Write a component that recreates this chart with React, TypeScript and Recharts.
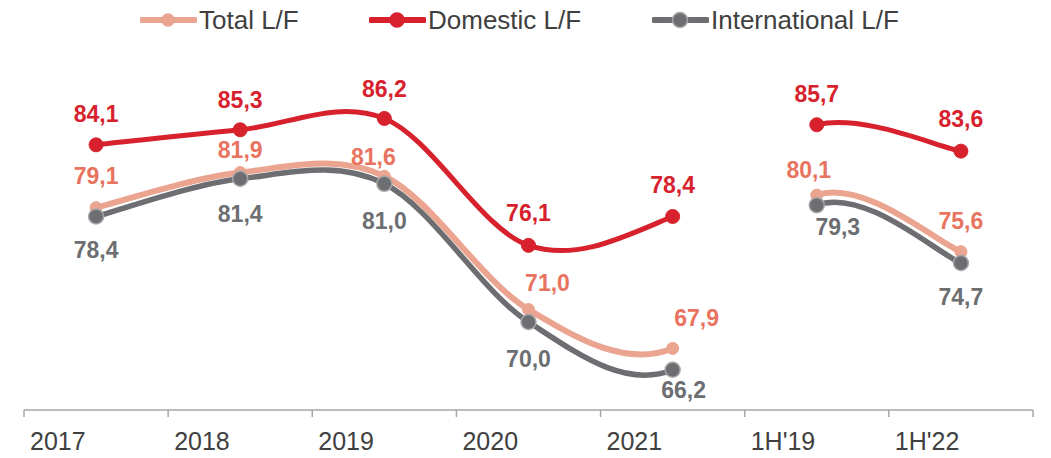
import { LineChart, Line, XAxis, YAxis, LabelList } from 'recharts'

const CATS = ['2017', '2018', '2019', '2020', '2021', "1H'19", "1H'22"]
const TOTAL = [79.1, 81.9, 81.6, 71.0, 67.9, 80.1, 75.6]
const DOMESTIC = [84.1, 85.3, 86.2, 76.1, 78.4, 85.7, 83.6]
const INTERNATIONAL = [78.4, 81.4, 81.0, 70.0, 66.2, 79.3, 74.7]

// the annual block and the half-year block are not joined
const BREAK_AFTER = CATS.indexOf('2021')

const DATA = CATS.map((cat, i) => ({
  cat,
  total: TOTAL[i],
  domestic: DOMESTIC[i],
  international: INTERNATIONAL[i],
}))

const W = 1051
const H = 458
const M = { top: 33, right: 18, bottom: 0, left: 24 }
const BAND = (W - M.left - M.right) / CATS.length
const FONT = '"Liberation Sans", Arial, sans-serif'

// label offsets (dx, dy) from each point, picked by eye
const OFF_TOTAL = [[0, -32], [0, -22], [-11, -19], [19, -26], [24, -30], [-8, -25], [0, -31]]
const OFF_DOM = [[0, -31], [0, -30], [0, -29], [0, -32], [0, -31], [0, -31], [0, -32]]
const OFF_INTL = [[0, 34], [0, 35], [0, 37], [0, 37], [11, 20], [21, 22], [0, 34]]

// Excel style smoothing: catmull-rom through all points, gap segment skipped
const excelCurve = (context: any) => {
  let pts: number[][] = []
  return {
    areaStart() {},
    areaEnd() {},
    lineStart() { pts = [] },
    point(x: number, y: number) { pts.push([+x, +y]) },
    lineEnd() {
      const n = pts.length
      if (!n) return
      context.moveTo(pts[0][0], pts[0][1])
      for (let i = 0; i < n - 1; i++) {
        const p0 = pts[Math.max(i - 1, 0)]
        const p1 = pts[i]
        const p2 = pts[i + 1]
        const p3 = pts[Math.min(i + 2, n - 1)]
        if (i === BREAK_AFTER) {
          context.moveTo(p2[0], p2[1])
          continue
        }
        context.bezierCurveTo(
          p1[0] + (p2[0] - p0[0]) / 6, p1[1] + (p2[1] - p0[1]) / 6,
          p2[0] - (p3[0] - p1[0]) / 6, p2[1] - (p3[1] - p1[1]) / 6,
          p2[0], p2[1],
        )
      }
    },
  }
}

const fmt = (v: number) => v.toFixed(1).replace('.', ',')

const labelFor = (color: string, offs: number[][]) => (props: any) => {
  const { x, y, value, index } = props
  const [dx, dy] = offs[index] || [0, 0]
  return (
    <text x={x + dx} y={y + dy} fill={color} textAnchor="middle" dominantBaseline="central"
      fontFamily={FONT} fontSize={23} fontWeight={700}>
      {fmt(value)}
    </text>
  )
}

const AxisTick = (props: any) => {
  const { x, y, payload, index, visibleTicksCount } = props
  const left = x - BAND / 2
  return (
    <g>
      <line x1={left} y1={y} x2={left} y2={y + 7} stroke="#A6A6A6" strokeWidth={1.5} />
      {index === visibleTicksCount - 1 && (
        <line x1={x + BAND / 2} y1={y} x2={x + BAND / 2} y2={y + 7} stroke="#A6A6A6" strokeWidth={1.5} />
      )}
      <text x={left + 6} y={y + 40} fill="#404040" fontFamily={FONT} fontSize={25}>
        {payload.value}
      </text>
    </g>
  )
}

const LEGEND = [
  { name: 'Total L/F', color: '#EBA490', stroke: '#EBA490', r: 6, x: 140 },
  { name: 'Domestic L/F', color: '#D7222D', stroke: '#D7222D', r: 7, x: 369 },
  { name: 'International L/F', color: '#6D6E71', stroke: '#A6A6A6', r: 7.5, x: 652 },
]

export default function App() {
  return (
    <div style={{ position: 'relative', width: W, height: H, fontFamily: FONT }}>
      <style>{'body{margin:0}'}</style>
      {LEGEND.map((l) => (
        <div key={l.name} style={{ position: 'absolute', left: l.x, top: 0, height: 40,
          display: 'flex', alignItems: 'center' }}>
          <svg width={57} height={40}>
            <line x1={2} y1={20} x2={55} y2={20} stroke={l.color} strokeWidth={6} strokeLinecap="round" />
            <circle cx={28} cy={20} r={l.r} fill={l.color} stroke={l.stroke} strokeWidth={1.5} />
          </svg>
          <span style={{ fontSize: 26, color: '#404040', marginLeft: 2, lineHeight: '40px' }}>{l.name}</span>
        </div>
      ))}
      <LineChart width={W} height={H} data={DATA} margin={M}>
        <XAxis dataKey="cat" scale="band" height={48} tickLine={false} tickSize={0} tickMargin={0}
          axisLine={{ stroke: '#A6A6A6', strokeWidth: 1.5 }} tick={<AxisTick />} interval={0} />
        <YAxis hide domain={[63, 93]} />
        <Line dataKey="total" type={excelCurve as any} stroke="#EBA490" strokeWidth={6}
          dot={{ r: 6, fill: '#EBA490', stroke: '#EBA490', strokeWidth: 1 }} isAnimationActive={false}>
          <LabelList dataKey="total" content={labelFor('#E8735E', OFF_TOTAL)} />
        </Line>
        <Line dataKey="domestic" type={excelCurve as any} stroke="#D7222D" strokeWidth={5}
          dot={{ r: 7, fill: '#D7222D', stroke: '#D7222D', strokeWidth: 1 }} isAnimationActive={false}>
          <LabelList dataKey="domestic" content={labelFor('#D7222D', OFF_DOM)} />
        </Line>
        <Line dataKey="international" type={excelCurve as any} stroke="#6D6E71" strokeWidth={5.5}
          dot={{ r: 7.5, fill: '#6D6E71', stroke: '#A6A6A6', strokeWidth: 1.5 }} isAnimationActive={false}>
          <LabelList dataKey="international" content={labelFor('#6D6E71', OFF_INTL)} />
        </Line>
      </LineChart>
    </div>
  )
}
